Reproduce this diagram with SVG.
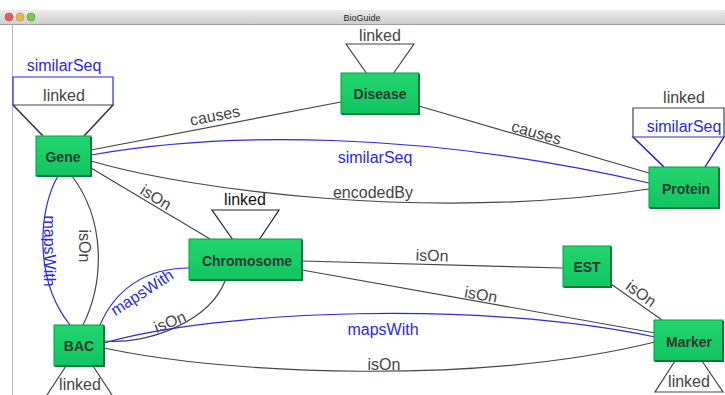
<svg xmlns="http://www.w3.org/2000/svg" width="725" height="395" viewBox="0 0 725 395">
<defs>
<linearGradient id="tb" x1="0" y1="0" x2="0" y2="1">
<stop offset="0" stop-color="#ececec"/><stop offset="1" stop-color="#cfcfcf"/>
</linearGradient>
<linearGradient id="ng" x1="0" y1="0" x2="0" y2="1">
<stop offset="0" stop-color="#22d46e"/><stop offset="1" stop-color="#10c660"/>
</linearGradient>
</defs>
<style>
.node rect{fill:url(#ng);stroke:#0b9a48;stroke-width:1}
.node .sh{fill:none;stroke:#0a7a3a;stroke-width:2}
.nl{font-family:"Liberation Sans",Arial,sans-serif;font-size:14px;font-weight:bold;fill:#2e3a32;text-anchor:middle}
.g{fill:none;stroke:#454545;stroke-width:1.2}
.b{fill:none;stroke:#2a2ae0;stroke-width:1.2}
.gt{font-family:"Liberation Sans",Arial,sans-serif;font-size:16px;fill:#444;text-anchor:middle}
.bt{font-family:"Liberation Sans",Arial,sans-serif;font-size:16px;fill:#2a2ae0;text-anchor:middle}
</style>
<rect x="0" y="0" width="725" height="395" fill="#fff"/>
<g id="window">
<rect x="0" y="10" width="725" height="14" fill="url(#tb)"/>
<line x1="0" y1="24.5" x2="725" y2="24.5" stroke="#a0a0a0"/>
<circle cx="9" cy="17" r="4" fill="#e5605a" stroke="#b04040" stroke-width="0.6"/>
<circle cx="20" cy="17" r="4" fill="#e8b84a" stroke="#b08a30" stroke-width="0.6"/>
<circle cx="31" cy="17" r="4" fill="#7cc55a" stroke="#4a9a3a" stroke-width="0.6"/>
<text x="362" y="21" font-family="Liberation Sans,Arial,sans-serif" font-size="9" fill="#222" text-anchor="middle">BioGuide</text>
<line x1="12.5" y1="25" x2="12.5" y2="395" stroke="#bbb"/>
</g>
<g id="connectors">
<path class="g" d="M91,150 L341,102"/>
<text class="gt" transform="rotate(-11 216 121)" x="216" y="121">causes</text>
<path class="g" d="M419,106 L649,173"/>
<text class="gt" transform="rotate(16 535 138)" x="535" y="138">causes</text>
<path class="b" d="M91,155 C220,132 420,130 649,183"/>
<text class="bt" x="375" y="163">similarSeq</text>
<path class="g" d="M91,161 C190,190 430,222 649,189"/>
<text class="gt" x="373" y="198">encodedBy</text>
<path class="g" d="M91,168 L210,239"/>
<text class="gt" transform="rotate(31 153 202)" x="153" y="202">isOn</text>
<path class="b" d="M58,176 C38,210 34,280 70,325"/>
<text class="bt" transform="rotate(90 50 251)" x="50" y="257">mapsWith</text>
<path class="g" d="M72,176 C105,220 105,280 83,325"/>
<text class="gt" transform="rotate(90 85 246)" x="85" y="252">isOn</text>
<path class="b" d="M100,325 C115,290 145,268 189,268"/>
<text class="bt" transform="rotate(-33 145 297)" x="145" y="297">mapsWith</text>
<path class="g" d="M104,341 C150,345 210,320 225,281"/>
<text class="gt" transform="rotate(-22 172 327)" x="172" y="327">isOn</text>
<path class="g" d="M302,261 L563,268"/>
<text class="gt" transform="rotate(1.5 432 261)" x="432" y="261">isOn</text>
<path class="g" d="M302,270 L655,333"/>
<text class="gt" transform="rotate(10 480 300)" x="480" y="300">isOn</text>
<path class="b" d="M104,343 C220,310 480,300 655,337"/>
<text class="bt" x="383" y="335">mapsWith</text>
<path class="g" d="M104,348 C230,375 480,385 655,342"/>
<text class="gt" x="384" y="370">isOn</text>
<path class="g" d="M611,284 L662,320"/>
<text class="gt" transform="rotate(36 638 298)" x="638" y="298">isOn</text>
</g>
<g id="gene" class="node">
<path class="b" d="M43,136 L13,105 L13,77 L113,77 L113,105 L84,136"/>
<path class="g" d="M43,136 L13,105 L113,105 L84,136"/>
<text class="bt" x="64" y="71">similarSeq</text>
<text class="gt" x="64" y="101">linked</text>
<rect x="36" y="136" width="55" height="40"/>
<path class="sh" d="M37,176 L91,176 L91,137"/>
<text class="nl" x="63" y="162">Gene</text>
</g>
<g id="disease" class="node">
<path class="g" d="M367,74 L346,44 L414,44 L393,74"/>
<text class="gt" x="380" y="41">linked</text>
<rect x="341" y="73" width="78" height="41"/>
<path class="sh" d="M342,114 L419,114 L419,74"/>
<text class="nl" x="380" y="99">Disease</text>
</g>
<g id="protein" class="node">
<path class="g" d="M664,167 L633,137 L633,108 L724,108 L724,137 L705,167"/>
<path class="b" d="M664,167 L633,137 L724,137 L705,167"/>
<text class="gt" x="684" y="103">linked</text>
<text class="bt" x="684" y="132">similarSeq</text>
<rect x="649" y="167" width="70" height="41"/>
<path class="sh" d="M650,208 L719,208 L719,168"/>
<text class="nl" x="686" y="194">Protein</text>
</g>
<g id="chromosome" class="node">
<path class="g" style="stroke:#222" d="M233,240 L212,210 L279,210 L259,240"/>
<text class="gt" style="fill:#111" x="245" y="205">linked</text>
<rect x="189" y="239" width="113" height="41"/>
<path class="sh" d="M190,280 L302,280 L302,240"/>
<text class="nl" x="247" y="266">Chromosome</text>
</g>
<g id="est" class="node">
<rect x="563" y="246" width="48" height="41"/>
<path class="sh" d="M564,287 L611,287 L611,247"/>
<text class="nl" x="587" y="272">EST</text>
</g>
<g id="marker" class="node">
<path class="g" d="M675,361 L655,392 L723,392 L702,361"/>
<text class="gt" x="689" y="387">linked</text>
<rect x="654" y="320" width="69" height="41"/>
<path class="sh" d="M655,361 L723,361 L723,321"/>
<text class="nl" x="689" y="347">Marker</text>
</g>
<g id="bac" class="node">
<path class="g" d="M66,366 L45,398 L114,398 L93,366"/>
<text class="gt" x="80" y="390">linked</text>
<rect x="54" y="325" width="50" height="41"/>
<path class="sh" d="M55,366 L104,366 L104,326"/>
<text class="nl" x="79" y="351">BAC</text>
</g>
</svg>
